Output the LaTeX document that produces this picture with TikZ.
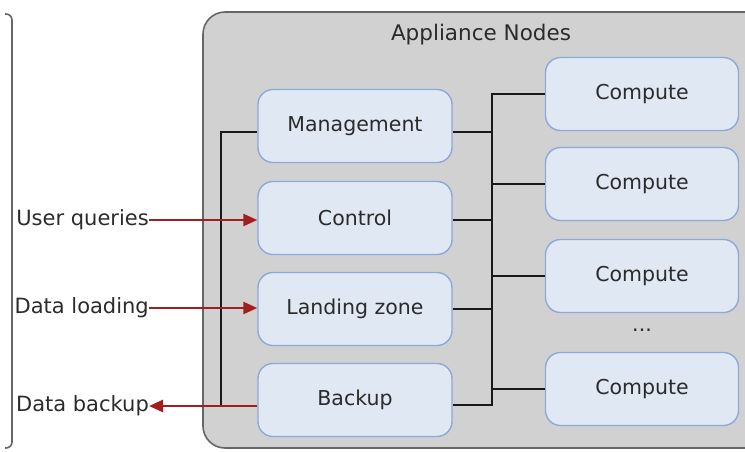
\documentclass[tikz,border=0pt]{standalone}
\usepackage{fontspec}
\setmainfont{DejaVu Sans}
\usetikzlibrary{arrows.meta}
\definecolor{panelfill}{HTML}{D1D1D1}
\definecolor{panelline}{HTML}{666666}
\definecolor{boxfill}{HTML}{E0E8F4}
\definecolor{boxline}{HTML}{8EA9D8}
\definecolor{feedred}{HTML}{A31F1F}
\definecolor{txt}{HTML}{2B2B2B}
\begin{document}
\begin{tikzpicture}[x=1pt, y=-1pt,
    box/.style={draw=boxline, fill=boxfill, line width=1.4pt, rounded corners=15pt,
        minimum width=194pt, minimum height=73pt, text=txt, font=\fontsize{20.5}{24}\selectfont},
    bus/.style={draw=black!90, line width=2.8pt},
    feed/.style={draw=feedred, line width=2.6pt, -{Triangle[length=14pt, width=12pt]}},
    lbl/.style={anchor=east, inner sep=0pt, text=txt, font=\fontsize{21}{24}\selectfont}]
    \clip (0,0) rectangle (745,451);
    % outer frames
    \draw[panelline, line width=1.6pt, rounded corners=6pt] (5,14) -- (12,14) -- (12,448) -- (5,448);
    \draw[panelline, fill=panelfill, line width=1.6pt, rounded corners=22pt] (203,12) rectangle (790,448);
    \node [text=txt, font=\fontsize{21.5}{24}\selectfont] (t) at (481,35) {Appliance Nodes};
    % control nodes
    \node [box] (m) at (355,126) {Management};
    \node [box] (c) at (355,218) {Control};
    \node [box] (l) at (355,309) {Landing zone};
    \node [box] (b) at (355,400) {Backup};
    % compute nodes
    \node [box, minimum width=193pt] (k1) at (642,94) {Compute};
    \node [box, minimum width=193pt] (k2) at (642,184) {Compute};
    \node [box, minimum width=193pt] (k3) at (642,276) {Compute};
    \node [text=txt, font=\fontsize{20.5}{24}\selectfont] (dots) at (642,330) {...};
    \node [box, minimum width=193pt] (k4) at (642,389) {Compute};
    % buses
    \coordinate (r) at (492,0);
    \coordinate (lb) at (221,406);
    \draw[bus] ([yshift=-6pt]m.west) -| (lb);
    \draw[bus] (k1.west) -- (k1.west -| r) |- ([yshift=-5pt]b.east);
    \draw[bus] (k2.west) -- (k2.west -| r);
    \draw[bus] (k3.west) -- (k3.west -| r);
    \draw[bus] (k4.west) -- (k4.west -| r);
    \draw[bus] ([yshift=-6pt]m.east) -- ([yshift=-6pt]m.east -| r);
    \draw[bus] ([yshift=-2pt]c.east) -- ([yshift=-2pt]c.east -| r);
    \draw[bus] (l.east) -- (l.east -| r);
    % external flows
    \node [lbl] (q) at (149,220) {User queries};
    \node [lbl] (d) at (149,308) {Data loading};
    \node [lbl] (u) at (149,406) {Data backup};
    \draw[feed] (q.east) -- (q.east -| c.west);
    \draw[feed] (d.east) -- (d.east -| l.west);
    \draw[feed] (u.east -| b.west) -- (u.east);
\end{tikzpicture}
\end{document}
